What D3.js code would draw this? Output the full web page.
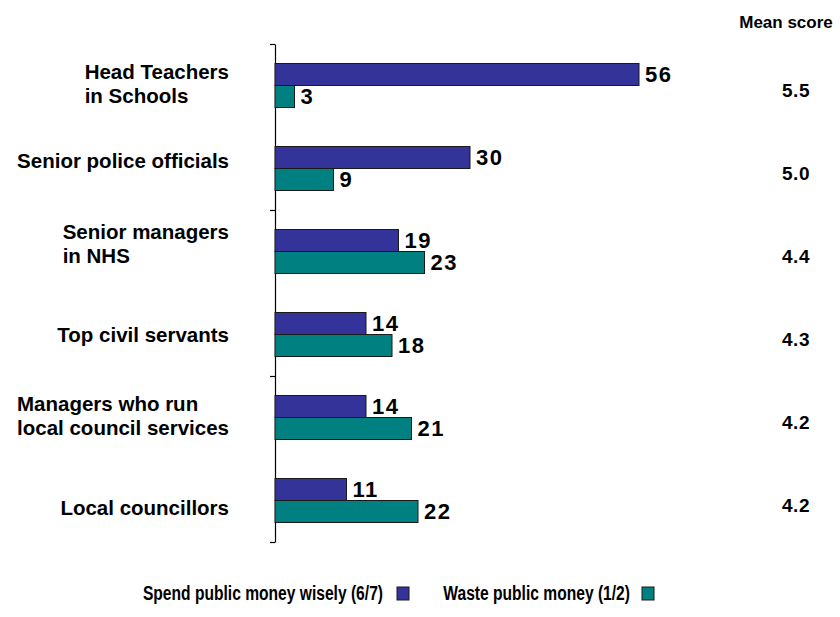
<!DOCTYPE html>
<html>
<head>
<meta charset="utf-8">
<script src="https://cdn.jsdelivr.net/npm/d3@7"></script>
<style>
  html, body { margin: 0; padding: 0; background: #fff; }
  svg { display: block; font-family: Arial, "Liberation Sans", Helvetica, sans-serif; font-weight: bold; }
</style>
</head>
<body>
<svg id="chart" width="840" height="617"></svg>
<script>
// Categories (lines split where the label wraps)
const categories = [
  ["Head Teachers", "in Schools"],
  ["Senior police officials"],
  ["Senior managers", "in NHS"],
  ["Top civil servants"],
  ["Managers who run", "local council services"],
  ["Local councillors"]
];
// Percentages per series
const spendWisely = [56, 30, 19, 14, 14, 11];
const wasteMoney  = [3, 9, 23, 18, 21, 22];
// Mean score per category
const meanScores = ["5.5", "5.0", "4.4", "4.3", "4.2", "4.2"];
const seriesNames = ["Spend public money wisely (6/7)", "Waste public money (1/2)"];
const seriesColors = ["#333399", "#008080"];

const svg = d3.select("#chart");
const ids = d3.range(categories.length);

const y = d3.scaleBand().domain(ids).range([44, 542]).paddingInner(0).paddingOuter(0);
const x = d3.scaleLinear().domain([0, 60]).range([275, 665]);
const barH = 22;
const groupOffset = (y.bandwidth() - 2 * barH) / 2;

// Axis line with a tick between every second category
const tickScale = d3.scaleLinear().domain([0, categories.length]).range([44, 542]);
const axis = svg.append("g")
  .attr("transform", `translate(${x(0)},0)`)
  .call(d3.axisLeft(tickScale).tickValues([0, 2, 4, 6]).tickFormat("").tickSize(5).tickSizeOuter(0));
axis.selectAll("path, line").attr("stroke", "#000").attr("stroke-width", 1.2);

const series = [spendWisely, wasteMoney];
series.forEach((vals, s) => {
  const g = svg.append("g");
  g.selectAll("rect").data(ids).join("rect")
    .attr("x", x(0))
    .attr("y", i => y(i) + groupOffset + s * barH)
    .attr("width", i => x(vals[i]) - x(0))
    .attr("height", barH)
    .attr("fill", seriesColors[s])
    .attr("stroke", "#1a1a1a")
    .attr("stroke-width", 1);
  g.selectAll("text").data(ids).join("text")
    .attr("x", i => x(vals[i]) + 6)
    .attr("y", i => y(i) + groupOffset + s * barH + barH / 2)
    .attr("dy", "0.36em")
    .attr("font-size", 22)
    .attr("letter-spacing", 1.5)
    .attr("fill", "#000")
    .text(i => vals[i]);
});

// Category labels: each block's widest line ends at the same right edge,
// lines inside a block are left aligned
const labelRight = 229;
const labelNudge = [-2, -8, -8, 0, -2, 7];
const lineH = 24;
ids.forEach(i => {
  const lines = categories[i];
  const cy = y(i) + y.bandwidth() / 2 + labelNudge[i];
  const t = svg.append("text")
    .attr("font-size", 20.5)
    .attr("fill", "#000");
  lines.forEach((ln, k) => {
    t.append("tspan")
      .attr("y", cy + (k - (lines.length - 1) / 2) * lineH)
      .attr("dy", "0.36em")
      .text(ln);
  });
  let w = 0;
  t.selectAll("tspan").each(function () { w = Math.max(w, this.getComputedTextLength()); });
  t.selectAll("tspan").attr("x", labelRight - w);
});

// Mean score column
svg.append("text")
  .attr("x", 786).attr("y", 28)
  .attr("text-anchor", "middle")
  .attr("font-size", 17)
  .attr("fill", "#000")
  .text("Mean score");
svg.append("g").selectAll("text").data(ids).join("text")
  .attr("x", 796)
  .attr("y", i => y(i) + y.bandwidth() / 2 + 5)
  .attr("dy", "0.36em")
  .attr("text-anchor", "middle")
  .attr("font-size", 19)
  .attr("letter-spacing", 0.5)
  .attr("fill", "#000")
  .text(i => meanScores[i]);

// Legend: tall, condensed lettering
const legendItems = [
  { textRight: 383, box: 397 },
  { textRight: 630, box: 642 }
];
legendItems.forEach((it, s) => {
  const t = svg.append("text")
    .attr("x", it.textRight).attr("y", 600)
    .attr("text-anchor", "end")
    .attr("font-size", 19.5)
    .attr("fill", "#000")
    .text(seriesNames[s]);
  const natural = t.node().getComputedTextLength();
  t.attr("textLength", natural * 0.8).attr("lengthAdjust", "spacingAndGlyphs");
  svg.append("rect")
    .attr("x", it.box).attr("y", 587)
    .attr("width", 12).attr("height", 13)
    .attr("fill", seriesColors[s])
    .attr("stroke", "#1a1a1a").attr("stroke-width", 1);
});
</script>
</body>
</html>
